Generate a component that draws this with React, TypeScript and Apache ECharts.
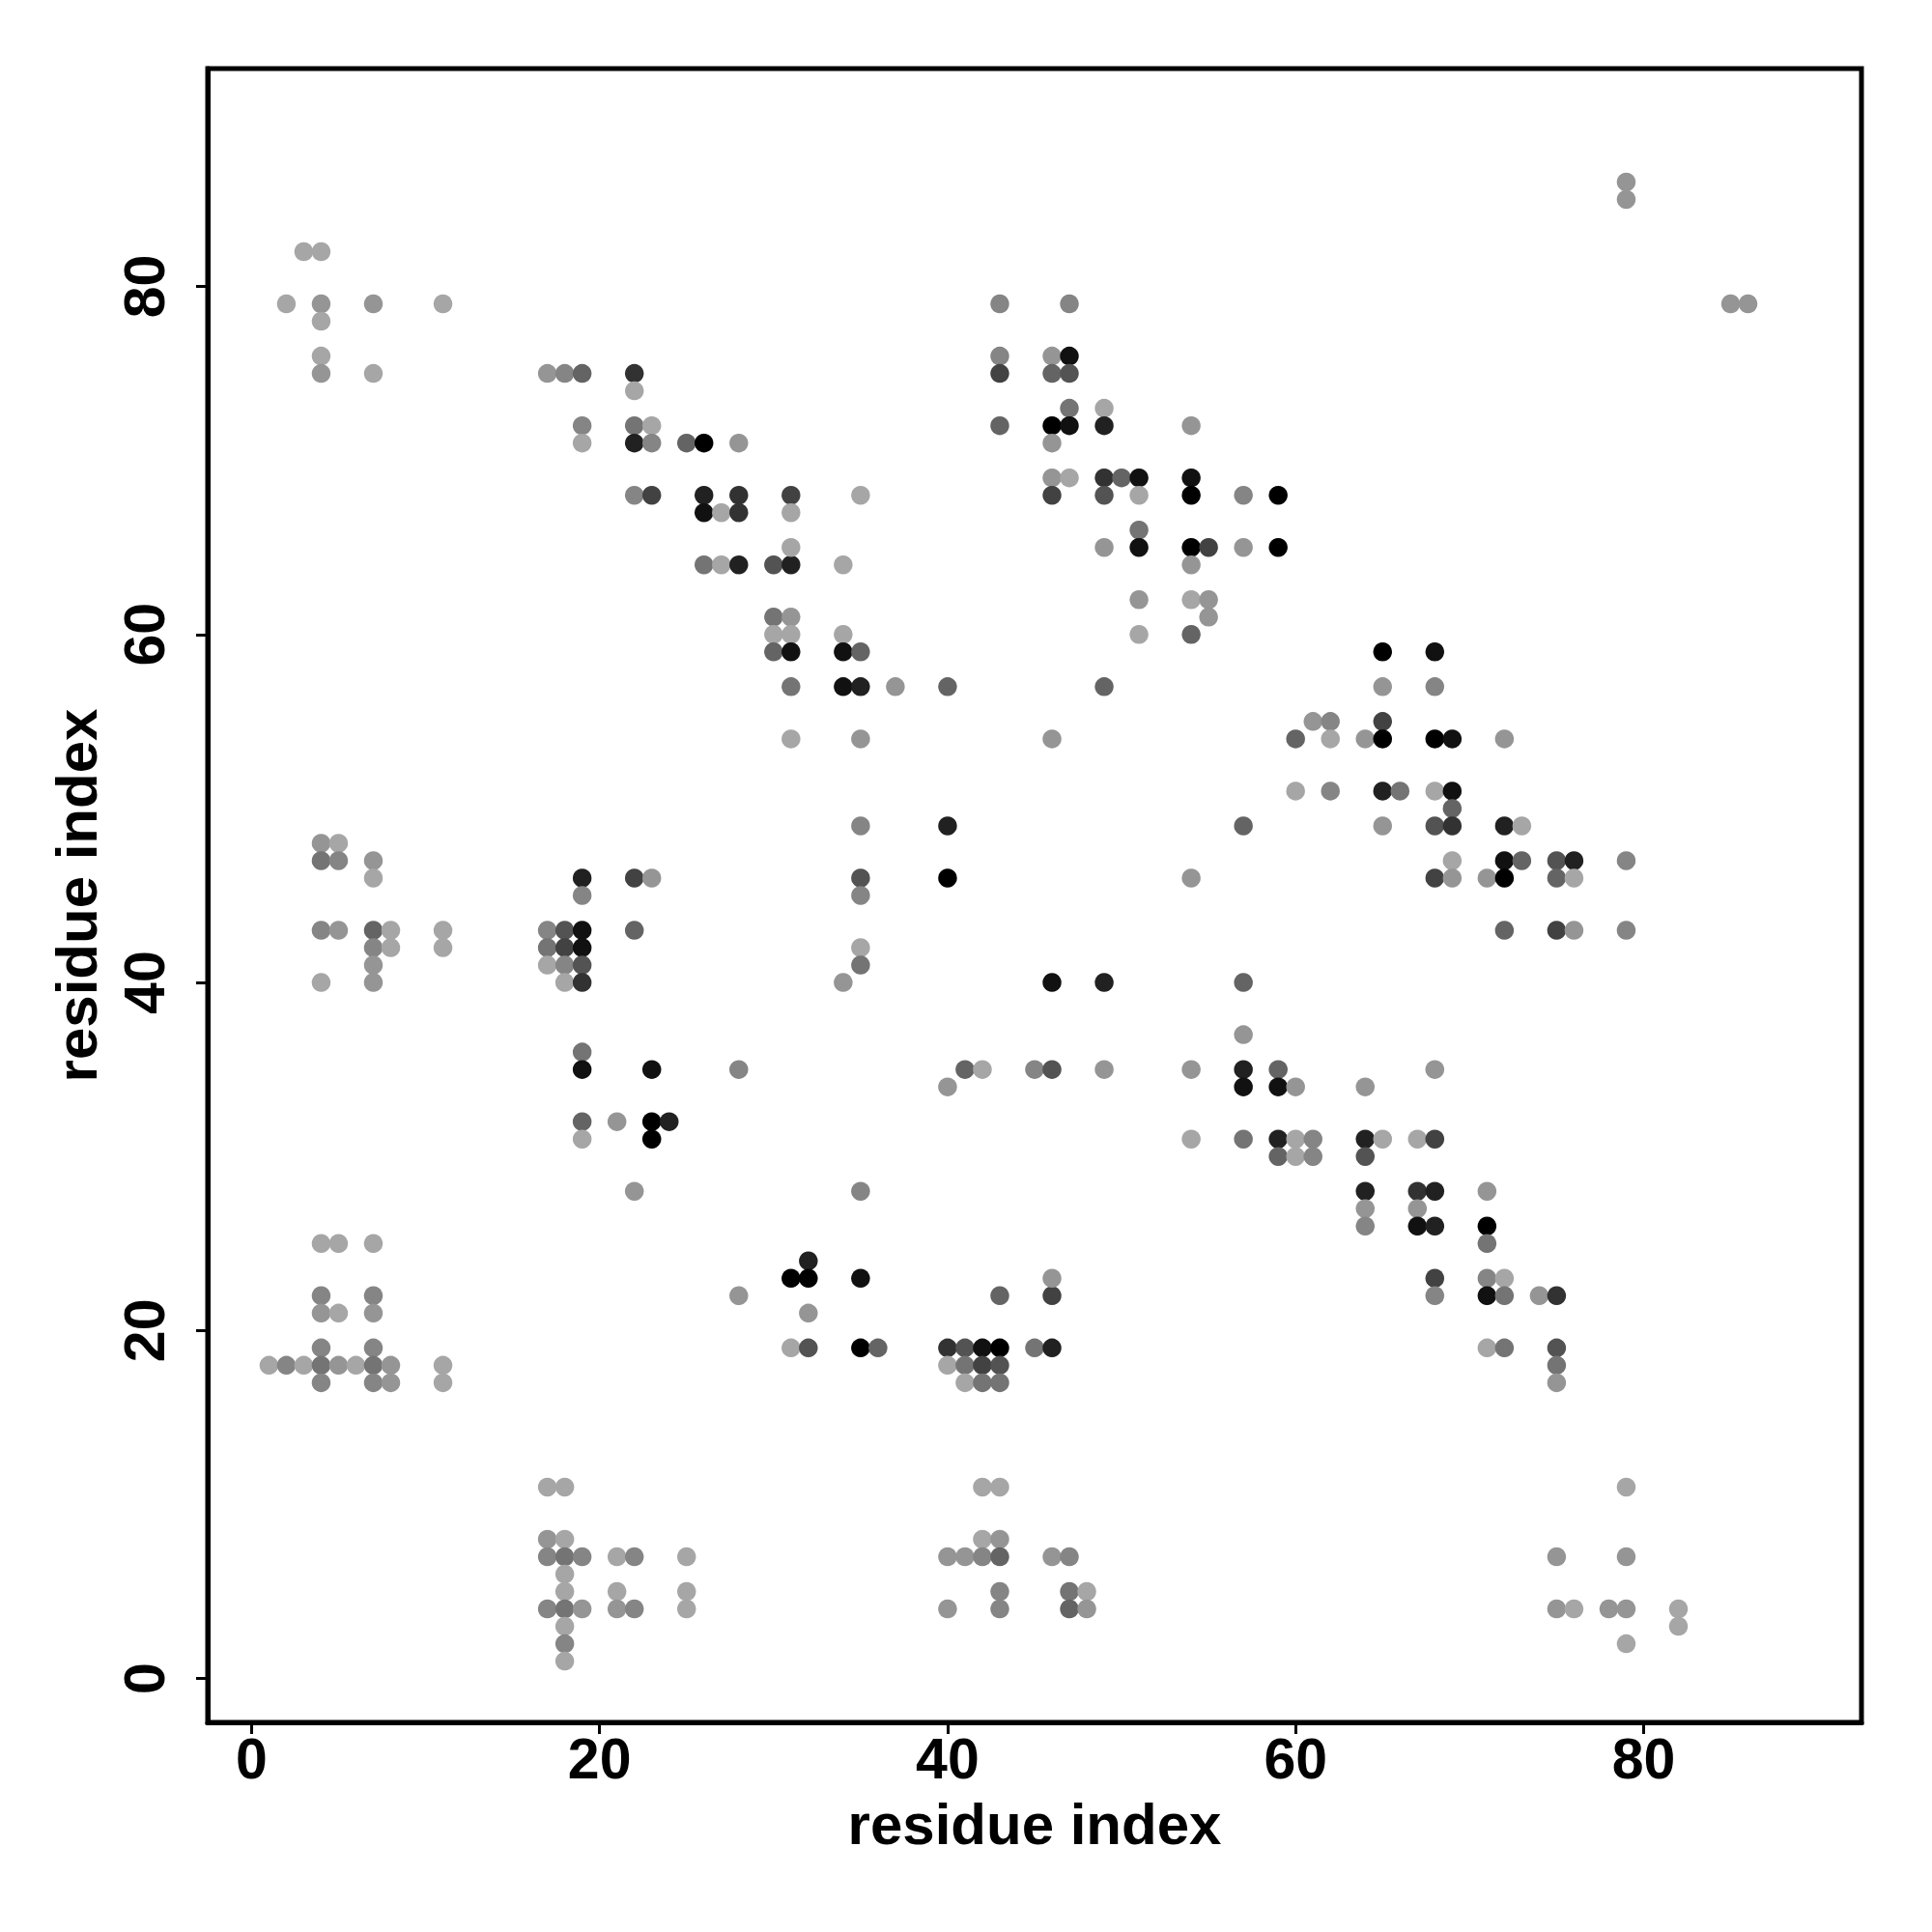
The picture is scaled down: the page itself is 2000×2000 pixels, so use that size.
import React, { useEffect, useRef } from "react";
import * as echarts from "echarts";

// tick values shared by both axes
const tickValues = [0, 20, 40, 60, 80];
const axisTitle = "residue index";
const axisMin = -2.52;
const axisMax = 92.52;

// contacts: [residue i, residue j, shade level 0 (light grey) .. 10 (black)]
const topLeftBlock = [
  [3, 82, 0], [4, 82, 0], [2, 79, 0], [4, 79, 1], [7, 79, 1], [11, 79, 0],
  [4, 78, 0], [4, 76, 0], [4, 75, 1], [7, 75, 0],
];

const upperDiagonal = [
  [17, 75, 1], [18, 75, 2], [19, 75, 4], [22, 75, 7], [22, 74, 0],
  [19, 72, 2], [22, 72, 3], [23, 72, 0],
  [19, 71, 0], [22, 71, 8], [23, 71, 2], [25, 71, 4], [26, 71, 10], [28, 71, 1],
  [22, 68, 2], [23, 68, 6], [26, 68, 8], [28, 68, 7],
  [26, 67, 9], [27, 67, 0], [28, 67, 7],
  [26, 64, 3], [27, 64, 0], [28, 64, 8], [30, 64, 5], [31, 64, 8], [34, 64, 0],
  [31, 68, 6], [35, 68, 0], [31, 67, 0], [31, 65, 0],
  [30, 61, 3], [31, 61, 1], [30, 60, 0], [31, 60, 0], [34, 60, 0],
  [30, 59, 4], [31, 59, 9], [34, 59, 9], [35, 59, 4],
  [31, 57, 3], [34, 57, 9], [35, 57, 8], [37, 57, 1], [40, 57, 4], [49, 57, 4],
  [31, 54, 0], [35, 54, 1], [46, 54, 1],
];

const upperMiddle = [
  [43, 79, 2], [47, 79, 2],
  [43, 76, 2], [46, 76, 1], [47, 76, 9],
  [43, 75, 6], [46, 75, 4], [47, 75, 5],
  [47, 73, 3], [49, 73, 0],
  [43, 72, 4], [46, 72, 10], [47, 72, 9], [49, 72, 8], [54, 72, 1],
  [46, 71, 1],
  [46, 69, 1], [47, 69, 0], [49, 69, 7], [50, 69, 4], [51, 69, 9], [54, 69, 9],
  [46, 68, 6], [49, 68, 5], [51, 68, 0], [54, 68, 10], [57, 68, 2], [59, 68, 10],
  [51, 66, 3],
  [49, 65, 1], [51, 65, 9], [54, 65, 10], [55, 65, 6], [57, 65, 1], [59, 65, 10],
  [54, 64, 1],
  [51, 62, 1], [54, 62, 0], [55, 62, 1], [55, 61, 1],
  [51, 60, 0], [54, 60, 4],
];

const rightMiddle = [
  [65, 59, 10], [68, 59, 9],
  [65, 57, 1], [68, 57, 2],
  [61, 55, 1], [62, 55, 2], [65, 55, 6],
  [60, 54, 4], [62, 54, 0], [64, 54, 1], [65, 54, 10], [68, 54, 10], [69, 54, 9], [72, 54, 1],
  [60, 51, 0], [62, 51, 2], [65, 51, 8], [66, 51, 3], [68, 51, 0], [69, 51, 9],
  [69, 50, 4],
  [57, 49, 4], [65, 49, 1], [68, 49, 5], [69, 49, 7], [72, 49, 8], [73, 49, 0],
  [69, 47, 0], [72, 47, 9], [73, 47, 4], [75, 47, 5], [76, 47, 8], [79, 47, 2],
  [68, 46, 6], [69, 46, 1], [71, 46, 1], [72, 46, 10], [75, 46, 4], [76, 46, 0],
  [72, 43, 4], [75, 43, 6], [76, 43, 1], [79, 43, 2],
];

const leftMiddle = [
  [4, 48, 1], [5, 48, 0],
  [4, 47, 3], [5, 47, 2], [7, 47, 1], [7, 46, 0],
  [19, 46, 8], [22, 46, 6], [23, 46, 1], [19, 45, 2],
  [4, 43, 2], [5, 43, 1], [7, 43, 4], [8, 43, 0], [11, 43, 0], [17, 43, 2], [18, 43, 5], [19, 43, 9], [22, 43, 4],
  [7, 42, 2], [8, 42, 0], [11, 42, 0], [17, 42, 3], [18, 42, 6], [19, 42, 9],
  [7, 41, 1], [17, 41, 0], [18, 41, 2], [19, 41, 5],
  [4, 40, 0], [7, 40, 1], [18, 40, 0], [19, 40, 7],
  [19, 36, 3],
  [19, 35, 9], [23, 35, 9], [28, 35, 2],
  [19, 32, 4], [21, 32, 1], [23, 32, 10], [24, 32, 8],
  [19, 31, 0], [23, 31, 10],
  [22, 28, 1],
];

const centre = [
  [35, 49, 2], [40, 49, 8],
  [35, 46, 5], [40, 46, 10], [54, 46, 1],
  [35, 45, 2], [35, 42, 0], [35, 41, 3],
  [34, 40, 1], [46, 40, 9], [49, 40, 8], [57, 40, 4],
  [57, 37, 1],
  [41, 35, 4], [42, 35, 0], [45, 35, 2], [46, 35, 5], [49, 35, 1], [54, 35, 1], [57, 35, 8], [59, 35, 4], [68, 35, 1],
  [40, 34, 1], [57, 34, 9], [59, 34, 9], [60, 34, 1], [64, 34, 1],
  [54, 31, 0], [57, 31, 3], [59, 31, 8], [60, 31, 0], [61, 31, 2], [64, 31, 8], [65, 31, 0], [67, 31, 0], [68, 31, 6],
  [59, 30, 4], [60, 30, 0], [61, 30, 2], [64, 30, 5],
  [35, 28, 2],
];

const lowerDiagonal = [
  [64, 28, 8], [67, 28, 7], [68, 28, 8], [71, 28, 1],
  [64, 27, 1], [67, 27, 1],
  [64, 26, 2], [67, 26, 9], [68, 26, 8], [71, 26, 10],
  [71, 25, 3],
  [68, 23, 6], [71, 23, 2], [72, 23, 0],
  [68, 22, 2], [71, 22, 9], [72, 22, 3], [74, 22, 1], [75, 22, 7],
  [71, 19, 0], [72, 19, 3], [75, 19, 5],
  [75, 18, 3], [75, 17, 1],
];

const lowerLeft = [
  [4, 25, 0], [5, 25, 0], [7, 25, 0],
  [4, 22, 2], [7, 22, 2], [28, 22, 1],
  [4, 21, 1], [5, 21, 0], [7, 21, 1],
  [4, 19, 2], [7, 19, 2],
  [1, 18, 0], [2, 18, 2], [3, 18, 0], [4, 18, 3], [5, 18, 1], [6, 18, 0], [7, 18, 3], [8, 18, 1], [11, 18, 0],
  [4, 17, 2], [7, 17, 2], [8, 17, 1], [11, 17, 0],
];

const lowerMiddle = [
  [32, 24, 8], [31, 23, 10], [32, 23, 10], [35, 23, 9], [32, 21, 1],
  [31, 19, 0], [32, 19, 5], [35, 19, 10], [36, 19, 4], [40, 19, 7], [41, 19, 5], [42, 19, 9], [43, 19, 10], [45, 19, 3], [46, 19, 8],
  [40, 18, 0], [41, 18, 3], [42, 18, 6], [43, 18, 5],
  [41, 17, 0], [42, 17, 3], [43, 17, 3],
  [43, 22, 4], [46, 22, 6], [46, 23, 1],
];

const bottomRow = [
  [17, 11, 0], [18, 11, 0], [17, 8, 1], [18, 8, 0],
  [17, 7, 2], [18, 7, 3], [19, 7, 2], [21, 7, 0], [22, 7, 2], [25, 7, 0],
  [18, 6, 0], [18, 5, 0], [21, 5, 0], [25, 5, 0],
  [17, 4, 2], [18, 4, 3], [19, 4, 1], [21, 4, 1], [22, 4, 2], [25, 4, 0],
  [18, 3, 0], [18, 2, 2], [18, 1, 0],
  [42, 11, 0], [43, 11, 0], [42, 8, 0], [43, 8, 1],
  [40, 7, 1], [41, 7, 1], [42, 7, 2], [43, 7, 4], [46, 7, 1], [47, 7, 2],
  [43, 5, 2], [47, 5, 3], [48, 5, 0],
  [40, 4, 1], [43, 4, 2], [47, 4, 4], [48, 4, 1],
  [79, 11, 0], [75, 7, 1], [79, 7, 1],
  [75, 4, 1], [76, 4, 0], [78, 4, 1], [79, 4, 1],
  [82, 4, 0], [82, 3, 0], [79, 2, 0],
];

const topRight = [
  [79, 86, 1], [79, 85, 1], [85, 79, 1], [86, 79, 1],
];

const allContacts = [
  ...topLeftBlock, ...upperDiagonal, ...upperMiddle, ...rightMiddle, ...leftMiddle,
  ...centre, ...lowerDiagonal, ...lowerLeft, ...lowerMiddle, ...bottomRow, ...topRight,
];

const FONT = "Liberation Sans";

function shadeColor(level: number): string {
  const v = Math.round(166 * (1 - level / 10));
  return `rgb(${v},${v},${v})`;
}

function axisCommon() {
  return {
    type: "value" as const,
    min: axisMin,
    max: axisMax,
    splitLine: { show: false },
    axisLine: { show: true, onZero: false, lineStyle: { color: "#000", width: 5 } },
    axisTick: {
      show: true,
      customValues: tickValues,
      length: 12,
      lineStyle: { color: "#000", width: 3 },
    },
    name: axisTitle,
    nameLocation: "middle" as const,
    nameTextStyle: {
      fontFamily: FONT,
      fontWeight: "bold" as const,
      fontSize: 60,
      lineHeight: 60,
      color: "#000",
    },
  };
}

export default function App() {
  const ref = useRef<HTMLDivElement>(null);
  useEffect(() => {
    if (!ref.current) return;
    const chart = echarts.init(ref.current, undefined, { renderer: "svg" });
    chart.setOption({
      animation: false,
      backgroundColor: "#fff",
      grid: {
        show: true,
        left: 215,
        top: 71,
        width: 1712,
        height: 1712,
        borderColor: "#000",
        borderWidth: 5,
        backgroundColor: "transparent",
      },
      xAxis: {
        ...axisCommon(),
        position: "bottom",
        nameGap: 75,
        axisLabel: {
          customValues: tickValues,
          margin: 8,
          fontFamily: FONT,
          fontWeight: "bold",
          fontSize: 59,
          lineHeight: 59,
          color: "#000",
        },
      },
      yAxis: {
        ...axisCommon(),
        position: "left",
        nameGap: 106,
        nameRotate: 90,
        axisLabel: {
          customValues: tickValues,
          rotate: 90,
          margin: 36,
          fontFamily: FONT,
          fontWeight: "bold",
          fontSize: 59,
          lineHeight: 59,
          color: "#000",
        },
      },
      series: [
        {
          type: "scatter",
          symbol: "circle",
          symbolSize: 19.5,
          data: allContacts,
          itemStyle: {
            color: (p: any) => shadeColor(p.data[2]),
            opacity: 1,
          },
        },
      ],
    });
    return () => chart.dispose();
  }, []);
  return (
    <div
      ref={ref}
      style={{ position: "absolute", left: 0, top: 0, width: 2000, height: 2000 }}
    />
  );
}
